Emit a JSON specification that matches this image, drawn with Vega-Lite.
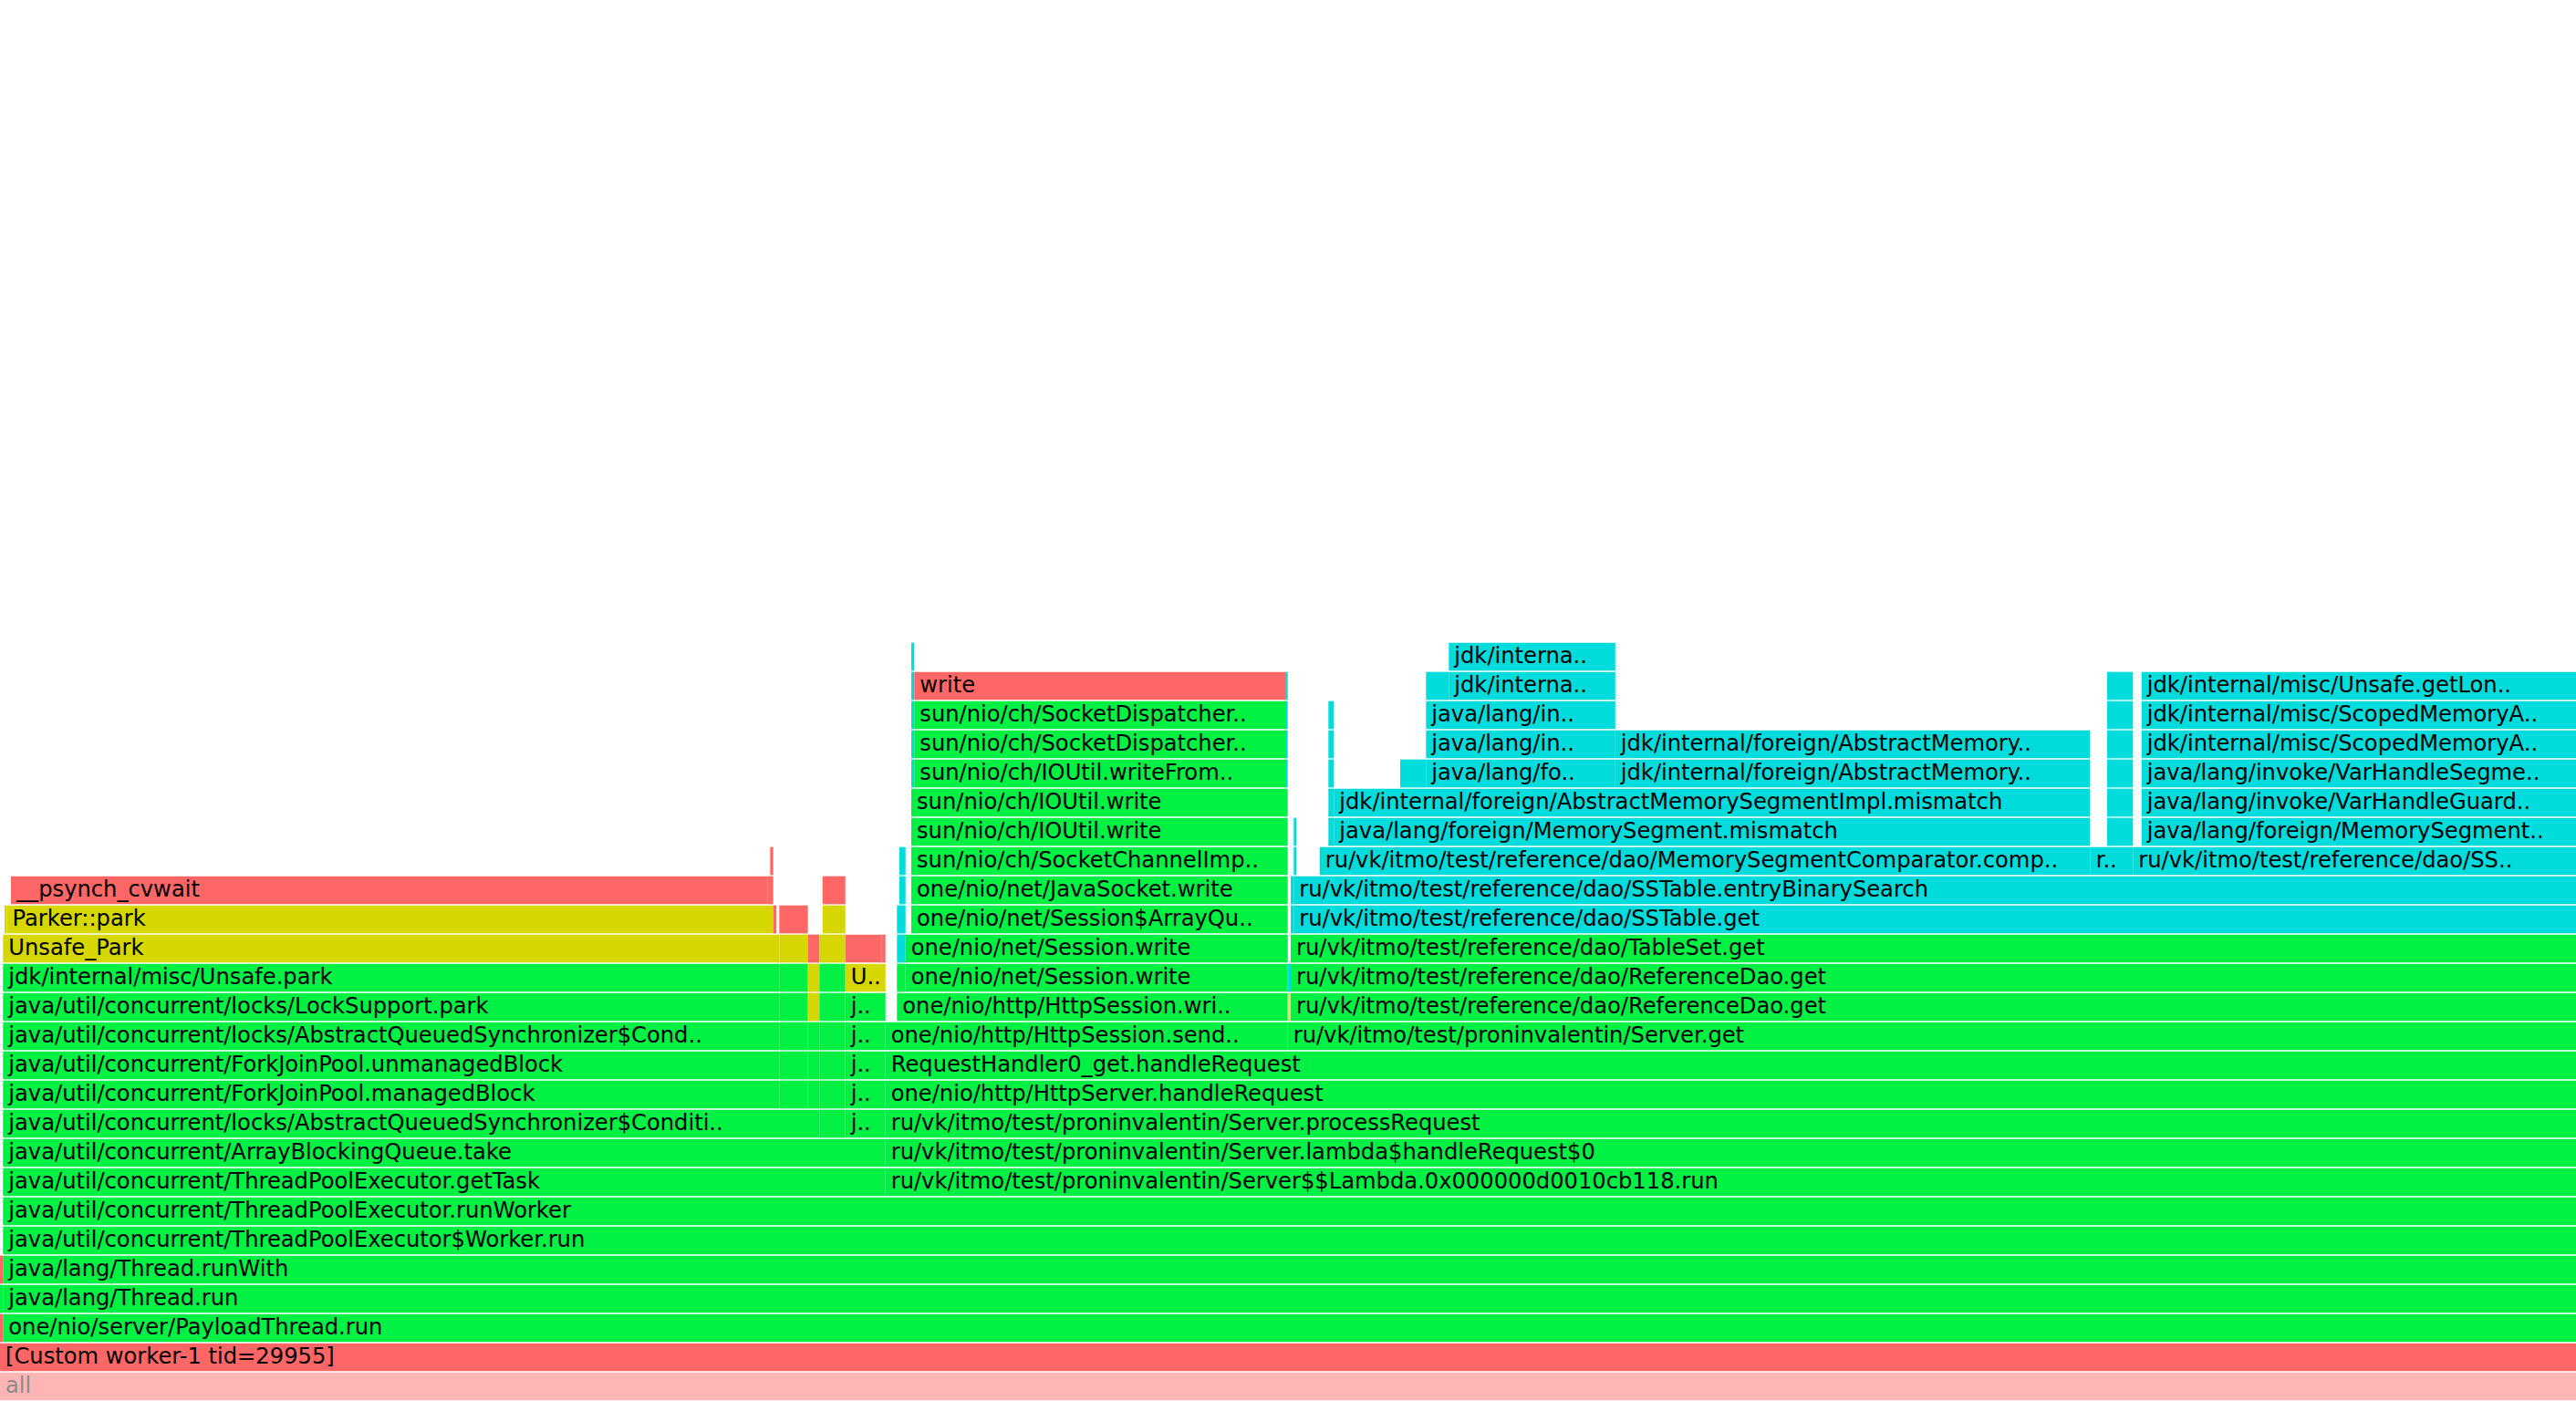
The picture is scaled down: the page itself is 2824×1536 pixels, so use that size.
{
  "$schema": "https://vega.github.io/schema/vega-lite/v6.json",
  "width": 2824,
  "height": 1536,
  "autosize": {"type": "fit", "contains": "padding"},
  "padding": 0,
  "background": "white",
  "config": {"view": {"stroke": null}},
  "data": {"values": [
    {"depth": 0, "start": 0, "end": 2824, "kind": "root", "label": "all"},
    {"depth": 1, "start": 0, "end": 2824, "kind": "native", "label": "[Custom worker-1 tid=29955]"},
    {"depth": 2, "start": 0, "end": 3.3, "kind": "native", "label": ""},
    {"depth": 2, "start": 3.3, "end": 2824, "kind": "java", "label": "one/nio/server/PayloadThread.run"},
    {"depth": 3, "start": 0, "end": 3.3, "kind": "java", "label": ""},
    {"depth": 3, "start": 3.3, "end": 2824, "kind": "java", "label": "java/lang/Thread.run"},
    {"depth": 4, "start": 0, "end": 3.3, "kind": "native", "label": ""},
    {"depth": 4, "start": 3.3, "end": 2824, "kind": "java", "label": "java/lang/Thread.runWith"},
    {"depth": 5, "start": 3.3, "end": 2824, "kind": "java", "label": "java/util/concurrent/ThreadPoolExecutor$Worker.run"},
    {"depth": 6, "start": 3.3, "end": 2824, "kind": "java", "label": "java/util/concurrent/ThreadPoolExecutor.runWorker"},
    {"depth": 7, "start": 3.3, "end": 970.7, "kind": "java", "label": "java/util/concurrent/ThreadPoolExecutor.getTask"},
    {"depth": 7, "start": 970.7, "end": 2824, "kind": "java", "label": "ru/vk/itmo/test/proninvalentin/Server$$Lambda.0x000000d0010cb118.run"},
    {"depth": 8, "start": 3.3, "end": 970.7, "kind": "java", "label": "java/util/concurrent/ArrayBlockingQueue.take"},
    {"depth": 8, "start": 970.7, "end": 2824, "kind": "java", "label": "ru/vk/itmo/test/proninvalentin/Server.lambda$handleRequest$0"},
    {"depth": 9, "start": 3.3, "end": 898.3, "kind": "java", "label": "java/util/concurrent/locks/AbstractQueuedSynchronizer$Conditi.."},
    {"depth": 9, "start": 898.3, "end": 926.7, "kind": "java", "label": ""},
    {"depth": 9, "start": 926.7, "end": 970.7, "kind": "java", "label": "j.."},
    {"depth": 9, "start": 970.7, "end": 2824, "kind": "java", "label": "ru/vk/itmo/test/proninvalentin/Server.processRequest"},
    {"depth": 10, "start": 3.3, "end": 854.3, "kind": "java", "label": "java/util/concurrent/ForkJoinPool.managedBlock"},
    {"depth": 10, "start": 854.3, "end": 885.7, "kind": "java", "label": ""},
    {"depth": 10, "start": 885.7, "end": 898.3, "kind": "java", "label": ""},
    {"depth": 10, "start": 898.3, "end": 926.7, "kind": "java", "label": ""},
    {"depth": 10, "start": 926.7, "end": 970.7, "kind": "java", "label": "j.."},
    {"depth": 10, "start": 970.7, "end": 2824, "kind": "java", "label": "one/nio/http/HttpServer.handleRequest"},
    {"depth": 11, "start": 3.3, "end": 854.3, "kind": "java", "label": "java/util/concurrent/ForkJoinPool.unmanagedBlock"},
    {"depth": 11, "start": 854.3, "end": 885.7, "kind": "java", "label": ""},
    {"depth": 11, "start": 885.7, "end": 898.3, "kind": "java", "label": ""},
    {"depth": 11, "start": 898.3, "end": 926.7, "kind": "java", "label": ""},
    {"depth": 11, "start": 926.7, "end": 970.7, "kind": "java", "label": "j.."},
    {"depth": 11, "start": 970.7, "end": 2824, "kind": "java", "label": "RequestHandler0_get.handleRequest"},
    {"depth": 12, "start": 3.3, "end": 854.3, "kind": "java", "label": "java/util/concurrent/locks/AbstractQueuedSynchronizer$Cond.."},
    {"depth": 12, "start": 854.3, "end": 885.7, "kind": "java", "label": ""},
    {"depth": 12, "start": 885.7, "end": 898.3, "kind": "java", "label": ""},
    {"depth": 12, "start": 898.3, "end": 926.7, "kind": "java", "label": ""},
    {"depth": 12, "start": 926.7, "end": 970.7, "kind": "java", "label": "j.."},
    {"depth": 12, "start": 970.7, "end": 1411.7, "kind": "java", "label": "one/nio/http/HttpSession.send.."},
    {"depth": 12, "start": 1411.7, "end": 2824, "kind": "java", "label": "ru/vk/itmo/test/proninvalentin/Server.get"},
    {"depth": 13, "start": 3.3, "end": 854.3, "kind": "java", "label": "java/util/concurrent/locks/LockSupport.park"},
    {"depth": 13, "start": 854.3, "end": 885.7, "kind": "java", "label": ""},
    {"depth": 13, "start": 885.7, "end": 898.3, "kind": "cpp", "label": ""},
    {"depth": 13, "start": 898.3, "end": 926.7, "kind": "java", "label": ""},
    {"depth": 13, "start": 926.7, "end": 970.7, "kind": "java", "label": "j.."},
    {"depth": 13, "start": 983.3, "end": 1411.7, "kind": "java", "label": "one/nio/http/HttpSession.wri.."},
    {"depth": 13, "start": 1411.7, "end": 1415, "kind": "c1", "label": ""},
    {"depth": 13, "start": 1415, "end": 2824, "kind": "java", "label": "ru/vk/itmo/test/reference/dao/ReferenceDao.get"},
    {"depth": 14, "start": 3.3, "end": 854.3, "kind": "java", "label": "jdk/internal/misc/Unsafe.park"},
    {"depth": 14, "start": 854.3, "end": 885.7, "kind": "java", "label": ""},
    {"depth": 14, "start": 885.7, "end": 898.3, "kind": "cpp", "label": ""},
    {"depth": 14, "start": 898.3, "end": 926.7, "kind": "java", "label": ""},
    {"depth": 14, "start": 926.7, "end": 970.7, "kind": "cpp", "label": "U.."},
    {"depth": 14, "start": 983.3, "end": 992.7, "kind": "java", "label": ""},
    {"depth": 14, "start": 992.7, "end": 1411.7, "kind": "java", "label": "one/nio/net/Session.write"},
    {"depth": 14, "start": 1411.7, "end": 1415, "kind": "inline", "label": ""},
    {"depth": 14, "start": 1415, "end": 2824, "kind": "java", "label": "ru/vk/itmo/test/reference/dao/ReferenceDao.get"},
    {"depth": 15, "start": 3.3, "end": 854.3, "kind": "cpp", "label": "Unsafe_Park"},
    {"depth": 15, "start": 854.3, "end": 885.7, "kind": "cpp", "label": ""},
    {"depth": 15, "start": 885.7, "end": 898.3, "kind": "native", "label": ""},
    {"depth": 15, "start": 898.3, "end": 926.7, "kind": "cpp", "label": ""},
    {"depth": 15, "start": 926.7, "end": 966.7, "kind": "native", "label": ""},
    {"depth": 15, "start": 966.7, "end": 970.7, "kind": "native", "label": ""},
    {"depth": 15, "start": 983.3, "end": 992.7, "kind": "inline", "label": ""},
    {"depth": 15, "start": 992.7, "end": 1411.7, "kind": "java", "label": "one/nio/net/Session.write"},
    {"depth": 15, "start": 1415, "end": 2824, "kind": "java", "label": "ru/vk/itmo/test/reference/dao/TableSet.get"},
    {"depth": 16, "start": 5, "end": 7.5, "kind": "cpp", "label": ""},
    {"depth": 16, "start": 7.5, "end": 847.7, "kind": "cpp", "label": "Parker::park"},
    {"depth": 16, "start": 847.7, "end": 851, "kind": "native", "label": ""},
    {"depth": 16, "start": 854.3, "end": 885.7, "kind": "native", "label": ""},
    {"depth": 16, "start": 901.7, "end": 926.7, "kind": "cpp", "label": ""},
    {"depth": 16, "start": 983.3, "end": 992.7, "kind": "inline", "label": ""},
    {"depth": 16, "start": 999, "end": 1411.7, "kind": "java", "label": "one/nio/net/Session$ArrayQu.."},
    {"depth": 16, "start": 1415, "end": 1418.3, "kind": "inline", "label": ""},
    {"depth": 16, "start": 1418.3, "end": 2824, "kind": "inline", "label": "ru/vk/itmo/test/reference/dao/SSTable.get"},
    {"depth": 17, "start": 12, "end": 841.7, "kind": "native", "label": "__psynch_cvwait"},
    {"depth": 17, "start": 841.7, "end": 847.7, "kind": "native", "label": ""},
    {"depth": 17, "start": 901.7, "end": 926.7, "kind": "native", "label": ""},
    {"depth": 17, "start": 986, "end": 992.7, "kind": "inline", "label": ""},
    {"depth": 17, "start": 999, "end": 1411.7, "kind": "java", "label": "one/nio/net/JavaSocket.write"},
    {"depth": 17, "start": 1415, "end": 1418.3, "kind": "inline", "label": ""},
    {"depth": 17, "start": 1418.3, "end": 2824, "kind": "inline", "label": "ru/vk/itmo/test/reference/dao/SSTable.entryBinarySearch"},
    {"depth": 18, "start": 844.3, "end": 847.7, "kind": "native", "label": ""},
    {"depth": 18, "start": 986, "end": 992.7, "kind": "inline", "label": ""},
    {"depth": 18, "start": 999, "end": 1411.7, "kind": "java", "label": "sun/nio/ch/SocketChannelImp.."},
    {"depth": 18, "start": 1418.3, "end": 1421, "kind": "inline", "label": ""},
    {"depth": 18, "start": 1446.7, "end": 2291.7, "kind": "inline", "label": "ru/vk/itmo/test/reference/dao/MemorySegmentComparator.comp.."},
    {"depth": 18, "start": 2291.7, "end": 2338.3, "kind": "inline", "label": "r.."},
    {"depth": 18, "start": 2338.3, "end": 2824, "kind": "inline", "label": "ru/vk/itmo/test/reference/dao/SS.."},
    {"depth": 19, "start": 999, "end": 1411.7, "kind": "java", "label": "sun/nio/ch/IOUtil.write"},
    {"depth": 19, "start": 1418.3, "end": 1421, "kind": "inline", "label": ""},
    {"depth": 19, "start": 1456.3, "end": 1462.3, "kind": "inline", "label": ""},
    {"depth": 19, "start": 1462.3, "end": 2291, "kind": "inline", "label": "java/lang/foreign/MemorySegment.mismatch"},
    {"depth": 19, "start": 2310, "end": 2338.3, "kind": "inline", "label": ""},
    {"depth": 19, "start": 2347.7, "end": 2824, "kind": "inline", "label": "java/lang/foreign/MemorySegment.."},
    {"depth": 20, "start": 999, "end": 1411.7, "kind": "java", "label": "sun/nio/ch/IOUtil.write"},
    {"depth": 20, "start": 1456.3, "end": 1462.3, "kind": "inline", "label": ""},
    {"depth": 20, "start": 1462.3, "end": 2291, "kind": "inline", "label": "jdk/internal/foreign/AbstractMemorySegmentImpl.mismatch"},
    {"depth": 20, "start": 2310, "end": 2338.3, "kind": "inline", "label": ""},
    {"depth": 20, "start": 2347.7, "end": 2824, "kind": "inline", "label": "java/lang/invoke/VarHandleGuard.."},
    {"depth": 21, "start": 999, "end": 1002.3, "kind": "inline", "label": ""},
    {"depth": 21, "start": 1002.3, "end": 1409, "kind": "java", "label": "sun/nio/ch/IOUtil.writeFrom.."},
    {"depth": 21, "start": 1409, "end": 1411.7, "kind": "inline", "label": ""},
    {"depth": 21, "start": 1456.3, "end": 1462.3, "kind": "inline", "label": ""},
    {"depth": 21, "start": 1535, "end": 1563.3, "kind": "inline", "label": ""},
    {"depth": 21, "start": 1563.3, "end": 1770.8, "kind": "inline", "label": "java/lang/fo.."},
    {"depth": 21, "start": 1770.8, "end": 2291, "kind": "inline", "label": "jdk/internal/foreign/AbstractMemory.."},
    {"depth": 21, "start": 2310, "end": 2338.3, "kind": "inline", "label": ""},
    {"depth": 21, "start": 2347.7, "end": 2824, "kind": "inline", "label": "java/lang/invoke/VarHandleSegme.."},
    {"depth": 22, "start": 999, "end": 1002.3, "kind": "inline", "label": ""},
    {"depth": 22, "start": 1002.3, "end": 1409, "kind": "java", "label": "sun/nio/ch/SocketDispatcher.."},
    {"depth": 22, "start": 1409, "end": 1411.7, "kind": "inline", "label": ""},
    {"depth": 22, "start": 1456.3, "end": 1462.3, "kind": "inline", "label": ""},
    {"depth": 22, "start": 1563.3, "end": 1770.8, "kind": "inline", "label": "java/lang/in.."},
    {"depth": 22, "start": 1770.8, "end": 2291, "kind": "inline", "label": "jdk/internal/foreign/AbstractMemory.."},
    {"depth": 22, "start": 2310, "end": 2338.3, "kind": "inline", "label": ""},
    {"depth": 22, "start": 2347.7, "end": 2824, "kind": "inline", "label": "jdk/internal/misc/ScopedMemoryA.."},
    {"depth": 23, "start": 999, "end": 1002.3, "kind": "inline", "label": ""},
    {"depth": 23, "start": 1002.3, "end": 1409, "kind": "java", "label": "sun/nio/ch/SocketDispatcher.."},
    {"depth": 23, "start": 1409, "end": 1411.7, "kind": "inline", "label": ""},
    {"depth": 23, "start": 1456.3, "end": 1462.3, "kind": "inline", "label": ""},
    {"depth": 23, "start": 1563.3, "end": 1770.8, "kind": "inline", "label": "java/lang/in.."},
    {"depth": 23, "start": 2310, "end": 2338.3, "kind": "inline", "label": ""},
    {"depth": 23, "start": 2347.7, "end": 2824, "kind": "inline", "label": "jdk/internal/misc/ScopedMemoryA.."},
    {"depth": 24, "start": 999, "end": 1002.3, "kind": "inline", "label": ""},
    {"depth": 24, "start": 1002.3, "end": 1409, "kind": "native", "label": "write"},
    {"depth": 24, "start": 1409, "end": 1411.7, "kind": "inline", "label": ""},
    {"depth": 24, "start": 1563.3, "end": 1588.3, "kind": "inline", "label": ""},
    {"depth": 24, "start": 1588.3, "end": 1770.8, "kind": "inline", "label": "jdk/interna.."},
    {"depth": 24, "start": 2310, "end": 2338.3, "kind": "inline", "label": ""},
    {"depth": 24, "start": 2347.7, "end": 2824, "kind": "inline", "label": "jdk/internal/misc/Unsafe.getLon.."},
    {"depth": 25, "start": 999, "end": 1002.3, "kind": "inline", "label": ""},
    {"depth": 25, "start": 1588.3, "end": 1770.8, "kind": "inline", "label": "jdk/interna.."}
  ]},
  "encoding": {
    "y": {
      "field": "depth",
      "type": "ordinal",
      "axis": null,
      "scale": {
        "type": "band",
        "domain": [47,46,45,44,43,42,41,40,39,38,37,36,35,34,33,32,31,30,29,28,27,26,25,24,23,22,21,20,19,18,17,16,15,14,13,12,11,10,9,8,7,6,5,4,3,2,1,0],
        "paddingInner": 0.04,
        "paddingOuter": 0.02
      }
    }
  },
  "layer": [
    {
      "mark": {"type": "bar", "cornerRadius": 0},
      "encoding": {
        "x": {"field": "start", "type": "quantitative", "axis": null, "scale": {"domain": [0, 2824], "nice": false, "zero": false}},
        "x2": {"field": "end"},
        "color": {
          "field": "kind",
          "type": "nominal",
          "legend": null,
          "scale": {
            "domain": ["root", "native", "cpp", "java", "inline", "c1"],
            "range": ["#ffb5b5", "#ff6666", "#d6d600", "#00f044", "#00dcdc", "#cce880"]
          }
        }
      }
    },
    {
      "transform": [{"filter": "datum.label !== ''"}],
      "mark": {"type": "text", "align": "left", "baseline": "middle", "dx": 6, "font": "DejaVu Sans", "fontSize": 24.2},
      "encoding": {
        "x": {"field": "start", "type": "quantitative"},
        "text": {"field": "label"},
        "color": {"condition": {"test": "datum.kind === 'root'", "value": "#8c8c8c"}, "value": "#000000"}
      }
    }
  ]
}
